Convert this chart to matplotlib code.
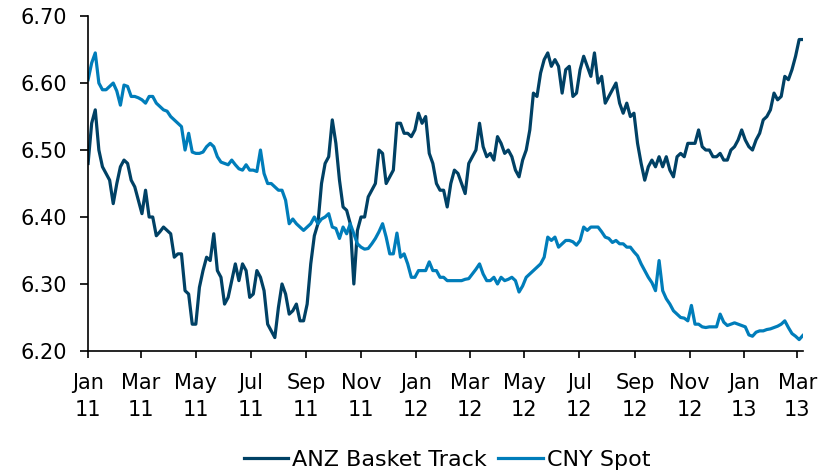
import matplotlib
matplotlib.use('Agg')
import matplotlib.pyplot as plt
import matplotlib.dates as mdates
import pandas as pd

# fechas cada 4 dias, ene-2011 a mar-2013
dates = pd.date_range('2011-01-01', periods=200, freq='4D')

anz_basket = [
    6.480, 6.540, 6.560, 6.500, 6.475, 6.465, 6.455, 6.420, 6.450, 6.475,
    6.485, 6.480, 6.455, 6.445, 6.425, 6.405, 6.440, 6.400, 6.400, 6.372,
    6.378, 6.385, 6.380, 6.375, 6.340, 6.345, 6.345, 6.290, 6.285, 6.240,
    6.240, 6.295, 6.320, 6.340, 6.335, 6.375, 6.320, 6.310, 6.270, 6.280,
    6.305, 6.330, 6.305, 6.330, 6.320, 6.280, 6.285, 6.320, 6.310, 6.290,
    6.240, 6.230, 6.220, 6.265, 6.300, 6.285, 6.255, 6.260, 6.270, 6.245,
    6.245, 6.270, 6.330, 6.372, 6.390, 6.450, 6.480, 6.490, 6.545, 6.510,
    6.455, 6.415, 6.410, 6.390, 6.300, 6.380, 6.400, 6.400, 6.430, 6.440,
    6.450, 6.500, 6.495, 6.450, 6.460, 6.470, 6.540, 6.540, 6.525, 6.525,
    6.520, 6.530, 6.555, 6.540, 6.550, 6.495, 6.480, 6.450, 6.440, 6.440,
    6.415, 6.450, 6.470, 6.465, 6.450, 6.435, 6.480, 6.490, 6.500, 6.540,
    6.505, 6.490, 6.495, 6.485, 6.520, 6.510, 6.495, 6.500, 6.490, 6.470,
    6.460, 6.485, 6.500, 6.530, 6.585, 6.580, 6.615, 6.635, 6.645, 6.625,
    6.635, 6.625, 6.585, 6.620, 6.625, 6.580, 6.585, 6.620, 6.640, 6.625,
    6.610, 6.645, 6.600, 6.610, 6.570, 6.580, 6.590, 6.600, 6.570, 6.555,
    6.570, 6.550, 6.555, 6.510, 6.480, 6.455, 6.475, 6.485, 6.475, 6.490,
    6.475, 6.490, 6.470, 6.460, 6.490, 6.495, 6.490, 6.510, 6.510, 6.510,
    6.530, 6.505, 6.500, 6.500, 6.490, 6.490, 6.495, 6.485, 6.485, 6.500,
    6.505, 6.515, 6.530, 6.515, 6.505, 6.500, 6.515, 6.525, 6.545, 6.550,
    6.560, 6.585, 6.575, 6.580, 6.610, 6.605, 6.620, 6.640, 6.665, 6.665,
]

cny_spot = [
    6.605, 6.630, 6.645, 6.600, 6.590, 6.590, 6.595, 6.600, 6.588, 6.567,
    6.597, 6.595, 6.580, 6.580, 6.578, 6.575, 6.570, 6.580, 6.580, 6.570,
    6.565, 6.560, 6.558, 6.550, 6.545, 6.540, 6.535, 6.500, 6.525, 6.497,
    6.495, 6.495, 6.497, 6.505, 6.510, 6.505, 6.490, 6.482, 6.480, 6.478,
    6.485, 6.478, 6.472, 6.470, 6.478, 6.470, 6.470, 6.468, 6.500, 6.465,
    6.450, 6.450, 6.445, 6.440, 6.440, 6.425, 6.390, 6.397, 6.390, 6.385,
    6.380, 6.385, 6.390, 6.400, 6.390, 6.397, 6.400, 6.405, 6.385, 6.383,
    6.368, 6.385, 6.375, 6.390, 6.375, 6.360, 6.355, 6.352, 6.353, 6.360,
    6.368, 6.378, 6.390, 6.370, 6.345, 6.345, 6.376, 6.340, 6.345, 6.330,
    6.310, 6.310, 6.320, 6.320, 6.320, 6.333, 6.320, 6.320, 6.310, 6.310,
    6.305, 6.305, 6.305, 6.305, 6.305, 6.307, 6.308, 6.315, 6.322, 6.330,
    6.315, 6.305, 6.305, 6.310, 6.300, 6.310, 6.305, 6.307, 6.310, 6.305,
    6.288, 6.297, 6.310, 6.315, 6.320, 6.325, 6.330, 6.340, 6.370, 6.365,
    6.370, 6.355, 6.360, 6.365, 6.365, 6.363, 6.358, 6.365, 6.385, 6.380,
    6.385, 6.385, 6.385, 6.378, 6.370, 6.368, 6.362, 6.365, 6.360, 6.360,
    6.355, 6.355, 6.348, 6.342, 6.330, 6.320, 6.310, 6.302, 6.290, 6.335,
    6.290, 6.278, 6.270, 6.260, 6.255, 6.250, 6.249, 6.245, 6.268, 6.240,
    6.240, 6.236, 6.235, 6.236, 6.236, 6.236, 6.255, 6.243, 6.238, 6.240,
    6.242, 6.240, 6.238, 6.236, 6.224, 6.222, 6.228, 6.230, 6.230, 6.232,
    6.233, 6.235, 6.237, 6.240, 6.245, 6.235, 6.226, 6.222, 6.217, 6.223,
]

yticks = [6.20, 6.30, 6.40, 6.50, 6.60, 6.70]

plt.rcParams['font.family'] = ['DejaVu Sans']
plt.rcParams['font.size'] = 15

fig = plt.figure(figsize=(8.31, 4.73), dpi=100)
ax = fig.add_axes([0.106, 0.258, 0.860, 0.708])

ax.plot(dates, anz_basket, color='#004165', lw=2.3, label='ANZ Basket Track')
ax.plot(dates, cny_spot, color='#007DBA', lw=2.3, label='CNY Spot')

ax.set_ylim(6.20, 6.70)
ax.set_yticks(yticks)
ax.set_yticklabels(['%.2f' % v for v in yticks])
ax.set_xlim(pd.Timestamp('2011-01-01'), pd.Timestamp('2013-03-07'))
ax.xaxis.set_major_locator(mdates.MonthLocator(bymonth=[1, 3, 5, 7, 9, 11]))
ax.xaxis.set_major_formatter(mdates.DateFormatter('%b\n%y'))

for s in ['top', 'right']:
    ax.spines[s].set_visible(False)
for s in ['left', 'bottom']:
    ax.spines[s].set_linewidth(1.2)
ax.tick_params(axis='y', length=6, width=1.2, pad=9)
ax.tick_params(axis='x', length=5, width=1.2, pad=11)
for lab in ax.get_xticklabels():
    lab.set_linespacing(1.45)

fig.legend(loc='center', bbox_to_anchor=(0.538, 0.028), ncol=2,
           frameon=False, handlelength=2.0, handletextpad=0.2,
           columnspacing=0.5, fontsize=16)

plt.savefig('out.png', dpi=100)
